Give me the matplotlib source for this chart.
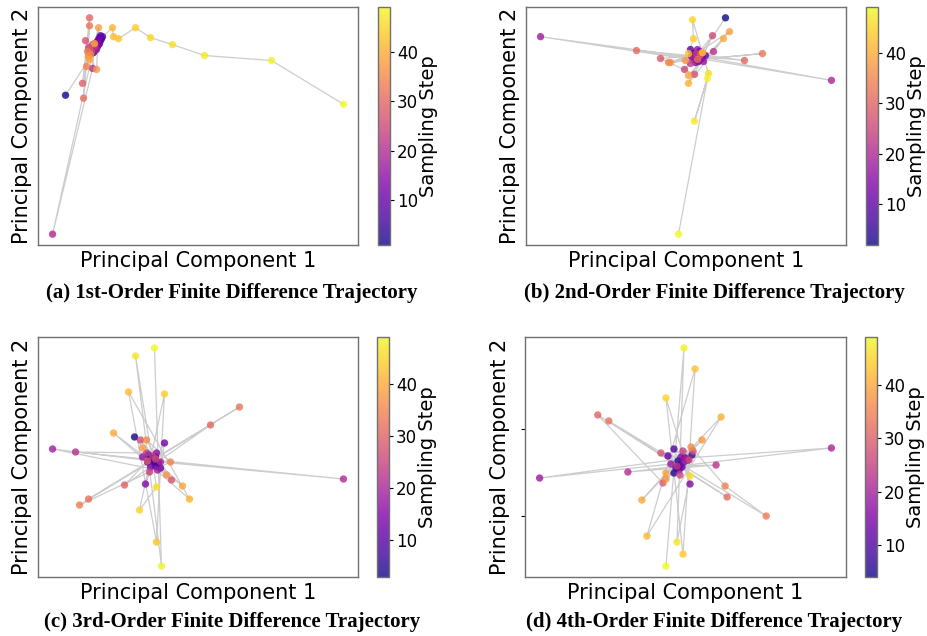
import numpy as np
import matplotlib
matplotlib.use("Agg")
import matplotlib.pyplot as plt

# ---- data (PC1, PC2 projections per sampling step) ----
pc1_a = [65, 93, 95, 97, 99, 100, 101, 102, 100, 99, 98, 97, 96, 98, 96, 95, 94, 96, 93, 52,
         92, 94, 92, 90, 88, 91, 85, 89, 82, 89, 83, 89, 87, 86, 90, 88, 96, 98, 89, 94,
         112, 113, 118, 135, 150, 172, 204, 271, 343]
pc2_a = [96, 53, 50, 47, 44, 41, 39, 37, 36, 38, 40, 42, 43, 45, 46, 48, 44, 50, 49, 236,
         69, 47, 45, 51, 48, 53, 41, 50, 84, 18, 99, 26, 52, 67, 55, 57, 70, 28, 60, 44,
         28, 37, 39, 28, 38, 45, 56, 61, 105]

pc1_b = [725, 700, 697, 694, 699, 696, 702, 690, 698, 693, 700, 705, 695, 691, 697, 703, 540,
         693, 831, 699, 713, 690, 696, 684, 712, 694, 660, 700, 744, 636, 697, 762, 668, 702,
         670, 685, 729, 688, 723, 688, 702, 688, 693, 692, 708, 694, 707, 678]
pc2_b = [18, 55, 58, 60, 52, 56, 58, 50, 62, 54, 60, 56, 63, 57, 50, 62, 37,
         58, 81, 57, 52, 64, 54, 70, 36, 75, 59, 55, 61, 51, 60, 54, 63, 53,
         63, 61, 32, 76, 39, 84, 53, 54, 39, 20, 74, 122, 79, 236]

pc1_c = [134, 150, 153, 148, 155, 152, 158, 147, 155, 160, 164, 150, 145, 156, 142, 157, 52,
         160, 343, 75, 146, 152, 149, 155, 140, 171, 147, 124, 210, 88, 239, 79, 170, 146,
         166, 142, 182, 113, 189, 128, 156, 164, 139, 156, 135, 161, 154]
pc2_c = [437, 458, 462, 455, 466, 460, 463, 462, 457, 468, 443, 467, 484, 453, 457, 470, 449,
         462, 479, 452, 453, 456, 472, 459, 440, 480, 461, 485, 425, 499, 407, 505, 462, 440,
         475, 448, 486, 433, 499, 392, 542, 394, 510, 487, 356, 566, 348]

pc1_d = [678, 674, 692, 680, 676, 685, 674, 682, 668, 688, 679, 681, 690, 684, 671, 540,
         686, 831, 628, 716, 677, 683, 680, 689, 661, 693, 663, 598, 727, 609, 766, 725,
         691, 666, 702, 666, 642, 721, 647, 695, 683, 666, 690, 677, 684, 666]
pc2_d = [461, 473, 455, 465, 468, 458, 449, 467, 456, 460, 470, 457, 484, 462, 464, 478,
         458, 448, 472, 465, 466, 451, 475, 460, 453, 451, 483, 415, 497, 421, 516, 486,
         447, 479, 440, 473, 500, 417, 536, 369, 554, 398, 476, 542, 348, 566]

first_step = [1, 2, 3, 4]
last_step = 49
captions = ["(a) 1st-Order Finite Difference Trajectory",
            "(b) 2nd-Order Finite Difference Trajectory",
            "(c) 3rd-Order Finite Difference Trajectory",
            "(d) 4th-Order Finite Difference Trajectory"]
cbar_ticks = [10, 20, 30, 40]

panels = [(pc1_a, pc2_a), (pc1_b, pc2_b), (pc1_c, pc2_c), (pc1_d, pc2_d)]

W, H = 928, 636
fig = plt.figure(figsize=(W / 100, H / 100), dpi=100)

def frac(x0, y0, x1, y1):
    return [x0 / W, 1 - y1 / H, (x1 - x0) / W, (y1 - y0) / H]

ax_boxes = [frac(38, 7, 358, 245), frac(526, 7, 846, 245),
            frac(38, 337, 358, 577), frac(525, 337, 846, 577)]
cb_boxes = [frac(378, 7, 390, 245), frac(866, 7, 878, 245),
            frac(377, 337, 389, 577), frac(865, 337, 877, 577)]
cap_pos = [(232, 293), (714, 293), (232, 622), (714, 622)]

spine_col = "#707070"
for i, (p1, p2) in enumerate(panels):
    x = np.array(p1, dtype=float)
    y = -np.array(p2, dtype=float)
    steps = np.arange(first_step[i], first_step[i] + len(x))
    ax = fig.add_axes(ax_boxes[i])
    ax.plot(x, y, color="#b8b8b8", lw=0.9, alpha=0.7, zorder=1)
    sc = ax.scatter(x, y, c=steps, cmap="plasma", vmin=first_step[i], vmax=last_step,
                    s=28, alpha=0.8, edgecolors="none", zorder=2)
    ax.set_xticks([])
    if i == 3:
        ax.set_yticks([-429, -516])
        ax.set_yticklabels(["", ""])
        ax.tick_params(axis="y", length=3, width=0.8)
    else:
        ax.set_yticks([])
    for s in ax.spines.values():
        s.set_color(spine_col)
        s.set_linewidth(1.0)
    ax.set_xlabel("Principal Component 1", fontsize=15, labelpad=4)
    ax.set_ylabel("Principal Component 2", fontsize=15, labelpad=4)
    cax = fig.add_axes(cb_boxes[i])
    cb = fig.colorbar(sc, cax=cax, ticks=cbar_ticks)
    cb.outline.set_edgecolor(spine_col)
    cb.outline.set_linewidth(1.0)
    cb.ax.tick_params(labelsize=12, length=3, pad=2)
    cb.set_label("Sampling Step", fontsize=14, labelpad=1)
    fig.text(cap_pos[i][0] / W, 1 - cap_pos[i][1] / H, captions[i],
             ha="center", va="center", fontsize=15, fontweight="bold",
             family=["Liberation Serif", "DejaVu Serif"])

fig.savefig("out.png", dpi=100)
